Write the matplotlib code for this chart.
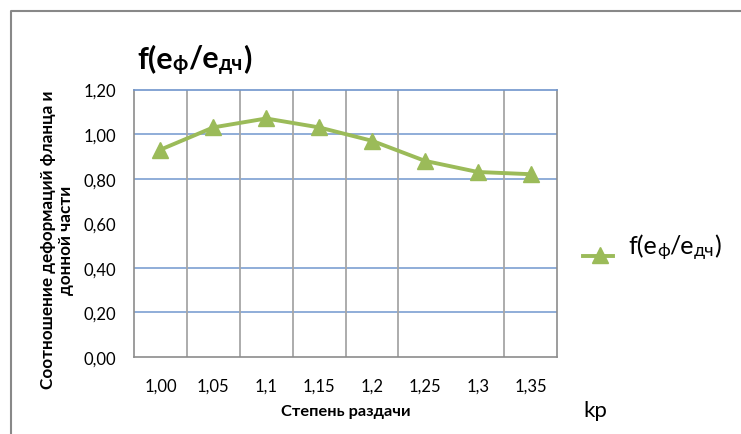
import matplotlib
matplotlib.use("Agg")
import matplotlib.pyplot as plt
from matplotlib.lines import Line2D

plt.rcParams['font.family'] = ['Lato', 'Open Sans', 'DejaVu Sans']

# данные: степень раздачи и соотношение деформаций
kp_labels = ['1,00', '1,05', '1,1', '1,15', '1,2', '1,25', '1,3', '1,35']
ratio = [0.93, 1.03, 1.07, 1.03, 0.97, 0.88, 0.83, 0.82]
y_ticks = [0.0, 0.2, 0.4, 0.6, 0.8, 1.0, 1.2]
y_labels = ['0,00', '0,20', '0,40', '0,60', '0,80', '1,00', '1,20']

green = '#9BBB59'
W, H = 741, 435
fig = plt.figure(figsize=(W / 100, H / 100), dpi=100)

def px(x, y):
    return x / W, 1 - y / H

# рамка области диаграммы
fig.add_artist(Line2D([11 / W, 11 / W, 1], [0, 1 - 12 / H, 1 - 12 / H],
                      transform=fig.transFigure, color='#888888', lw=1.5))

ax = fig.add_axes([134 / W, 1 - 358 / H, 423 / W, 267.5 / H])
x = list(range(len(kp_labels)))
ax.plot(x, ratio, color=green, lw=2.8, marker='^', markersize=11,
        markeredgecolor=green, zorder=3)
ax.set_xlim(-0.5, len(kp_labels) - 0.5)
ax.set_ylim(0, 1.2)

# сетка как в Excel
for yv in [0.2, 0.4, 0.8, 1.0]:
    ax.axhline(yv, color='#7DA0D2', lw=1.2, zorder=1)
for i in [0.5, 1.5, 2.5, 3.5, 4.5, 6.5]:
    ax.axvline(i, color='#A6A6A6', lw=1.3, zorder=1)
for s in ['left', 'bottom', 'right']:
    ax.spines[s].set_color('#8C8C8C')
    ax.spines[s].set_linewidth(1.2)
ax.spines['top'].set_color('#6F95CC')
ax.spines['top'].set_linewidth(1.2)

ax.set_xticks(x)
ax.set_xticklabels(kp_labels, fontsize=12)
ax.set_yticks(y_ticks)
ax.set_yticklabels(y_labels, fontsize=12)
ax.tick_params(length=0)
ax.tick_params(axis='x', pad=15)
ax.tick_params(axis='y', pad=13)

fig.text(*px(57, 240), 'Соотношение деформаций фланца и\nдонной части',
         rotation=90, ha='center', va='center', fontsize=12.3,
         fontweight='bold', linespacing=1.1)
fig.text(*px(346, 412), 'Степень раздачи', ha='center', va='center',
         fontsize=11.8, fontweight='bold')
fig.text(*px(583, 411), 'kр', ha='left', va='center', fontsize=16)

renderer = fig.canvas.get_renderer()

def rich(x0, y0, parts, weight):
    # текст с нижними индексами, набираемый по кускам
    xc = x0
    for s, size, dy in parts:
        t = fig.text(*px(xc, y0 + dy), s, fontsize=size, fontweight=weight,
                     ha='left', va='baseline')
        bb = t.get_window_extent(renderer)
        xc += bb.width

title_parts = [('f(e', 22, 0), ('ф', 15, 2), ('/e', 22, 0), ('дч', 15, 2), (')', 22, 0)]
rich(137, 68, title_parts, 'bold')

legend_parts = [('f(e', 18, 0), ('ф', 13, 2), ('/e', 18, 0), ('дч', 13, 2), (')', 18, 0)]
rich(628, 254, legend_parts, 'normal')

fig.add_artist(Line2D([583 / W, 613 / W], [1 - 257 / H] * 2, transform=fig.transFigure,
                      color=green, lw=2.8))
fig.add_artist(Line2D([600 / W], [1 - 256 / H], transform=fig.transFigure,
                      color=green, marker='^', markersize=11, lw=0))

fig.savefig('out.png', dpi=100)
